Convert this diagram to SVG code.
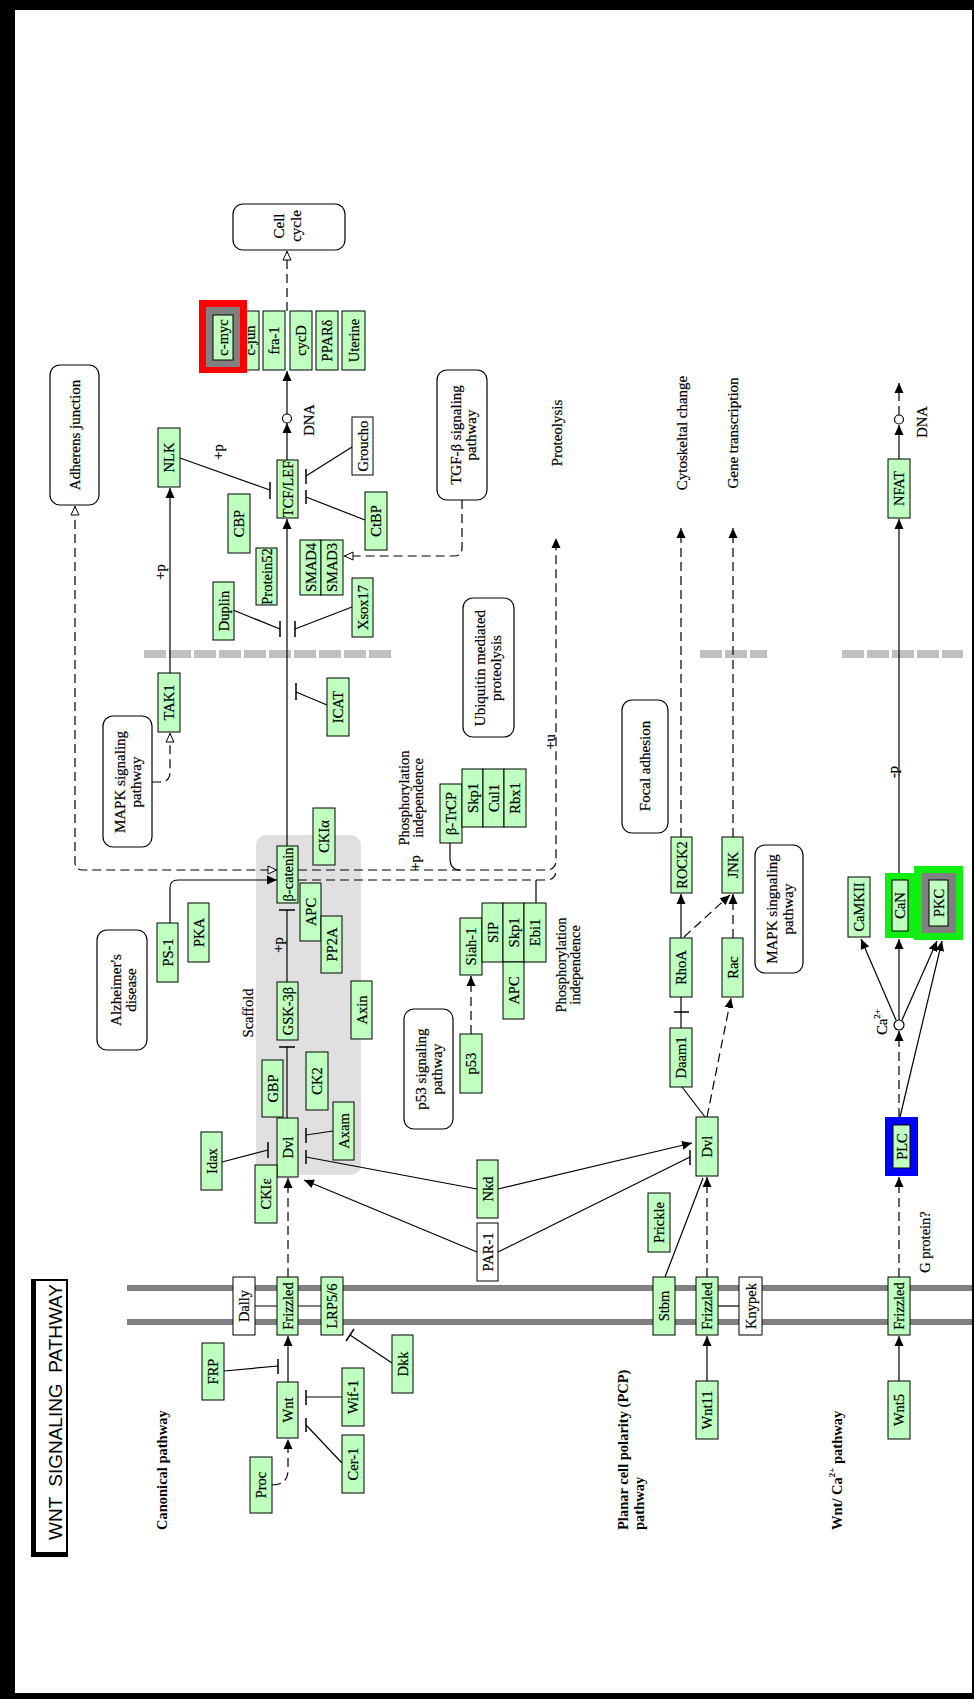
<svg xmlns="http://www.w3.org/2000/svg" width="974" height="1699" viewBox="0 0 974 1699">
<style>
.g{fill:#bfffbf;stroke:#000;stroke-width:1}
.w{fill:#fff;stroke:#000;stroke-width:1}
.pw{fill:#fff;stroke:#000;stroke-width:1.2}
.t{font-family:"Liberation Serif","Times New Roman",serif;font-size:14.5px;text-anchor:middle;dominant-baseline:central;fill:#000;stroke:#000;stroke-width:0.2}
.pt{font-size:15px}
.b{font-family:"Liberation Serif","Times New Roman",serif;font-size:14.5px;font-weight:bold;dominant-baseline:central;fill:#000}
.l{fill:none;stroke:#000;stroke-width:1.2}
.d{fill:none;stroke:#000;stroke-width:1.2;stroke-dasharray:9 5}
.ib{fill:none;stroke:#000;stroke-width:1.5}
.hg{fill:#11ee11}
.gr{fill:#808080}
</style>
<defs>
<marker id="af" viewBox="0 0 10 10" refX="10" refY="5" markerWidth="10" markerHeight="10" markerUnits="userSpaceOnUse" orient="auto"><path d="M0,0.5L10,5L0,9.5z" fill="#000"/></marker>
<marker id="ao" viewBox="0 0 10 10" refX="10" refY="5" markerWidth="10" markerHeight="10" markerUnits="userSpaceOnUse" orient="auto-start-reverse"><path d="M1,1L9.5,5L1,9z" fill="#fff" stroke="#000"/></marker>
</defs>
<rect x="0" y="0" width="974" height="1699" fill="#000"/>
<rect x="15" y="10" width="957" height="1683" fill="#fff"/>
<g id="background">
<rect x="256" y="835" width="105" height="340" rx="10" fill="#e0e0e0"/>
<line x1="144" y1="654" x2="394" y2="654" stroke="#c0c0c0" stroke-width="8" stroke-dasharray="22 3"/>
<line x1="700" y1="654" x2="767" y2="654" stroke="#c0c0c0" stroke-width="8" stroke-dasharray="22 3"/>
<line x1="842" y1="654" x2="963" y2="654" stroke="#c0c0c0" stroke-width="8" stroke-dasharray="22 3"/>
<line x1="127" y1="1288" x2="972" y2="1288" stroke="#808080" stroke-width="6"/>
<line x1="127" y1="1322" x2="972" y2="1322" stroke="#808080" stroke-width="6"/>
</g>
<g id="connectors">
<path class="d" d="M287,311V251" marker-end="url(#ao)"/>
<path class="l" d="M287,460V423" marker-end="url(#af)"/>
<path class="l" d="M287,414V371" marker-end="url(#af)"/>
<circle cx="287" cy="418.5" r="4.5" fill="#fff" stroke="#000" stroke-width="1.2"/>
<path class="l" d="M180,458L270,490"/><path class="ib" d="M270,482V499"/>
<path class="l" d="M352,447L306,476"/><path class="ib" d="M306,469V484"/>
<path class="l" d="M365,520L306,497"/><path class="ib" d="M306,490V504"/>
<path class="l" d="M287,846V519" marker-end="url(#af)"/>
<path class="l" d="M170,673V488" marker-end="url(#af)"/>
<path class="d" d="M152,782H160Q170,782 170,772V733" marker-end="url(#ao)"/>
<path class="l" d="M233,610L280,629"/><path class="ib" d="M280,621V637"/>
<path class="l" d="M352,607L295,629"/><path class="ib" d="M295,621V637"/>
<path class="l" d="M327,705L296,692"/><path class="ib" d="M296,683V700"/>
<path class="d" d="M462,500V548Q462,556 454,556H344" marker-end="url(#ao)"/>
<path class="d" d="M298,870H546Q556,870 556,860V538" marker-end="url(#af)"/>
<path class="d" d="M298,880H546Q556,880 556,870"/>
<path class="l" d="M450,843V858Q450,870 460,870"/>
<path class="l" d="M536,903V880"/>
<path class="d" d="M75,506V862Q75,870 83,870H277" marker-start="url(#ao)" marker-end="url(#ao)"/>
<path class="l" d="M170,923V888Q170,880 178,880H277" marker-end="url(#af)"/>
<path class="l" d="M287,982V910"/><path class="ib" d="M279,910H295"/>
<path class="l" d="M287,1118V1047"/><path class="ib" d="M279,1047H295"/>
<path class="l" d="M222,1162L268,1150"/><path class="ib" d="M268,1142V1158"/>
<path class="l" d="M333,1131L306,1135"/><path class="ib" d="M306,1128V1143"/>
<path class="l" d="M477,1189L306,1157"/><path class="ib" d="M306,1150V1164"/>
<path class="l" d="M477,1252L304,1180" marker-end="url(#af)"/>
<path class="d" d="M288,1277V1178" marker-end="url(#af)"/>
<path class="l" d="M288,1382V1336" marker-end="url(#af)"/>
<path class="d" d="M272,1485Q288,1485 288,1470V1439" marker-end="url(#af)"/>
<path class="l" d="M224,1371L278,1366"/><path class="ib" d="M278,1359V1374"/>
<path class="l" d="M342,1397H306"/><path class="ib" d="M306,1390V1405"/>
<path class="l" d="M342,1463L306,1425"/><path class="ib" d="M306,1418V1432"/>
<path class="l" d="M392,1363L350,1335"/><path class="ib" d="M346,1341L354,1329"/>
<path class="l" d="M255,1306H277M298,1306H321"/>
<path class="l" d="M707,1381V1336" marker-end="url(#af)"/>
<path class="l" d="M718,1306H739"/>
<path class="d" d="M707,1277V1177" marker-end="url(#af)"/>
<path class="l" d="M665,1277L703,1178"/>
<path class="d" d="M707,1117L731,998" marker-end="url(#af)"/>
<path class="l" d="M682,1087L705,1117"/>
<path class="l" d="M681,1028V997"/><path class="ib" d="M674,1012H689"/>
<path class="l" d="M681,938V894" marker-end="url(#af)"/>
<path class="d" d="M684,937L730,895" marker-end="url(#af)"/>
<path class="d" d="M733,938V894" marker-end="url(#af)"/>
<path class="d" d="M681,837V528" marker-end="url(#af)"/>
<path class="d" d="M733,837V528" marker-end="url(#af)"/>
<path class="l" d="M498,1189L692,1143" marker-end="url(#af)"/>
<path class="l" d="M498,1252L690,1157"/><path class="ib" d="M690,1150V1165"/>
<path class="l" d="M899,1381V1336" marker-end="url(#af)"/>
<path class="d" d="M899,1277V1177" marker-end="url(#af)"/>
<path class="d" d="M899,1117V1031" marker-end="url(#af)"/>
<circle cx="899" cy="1025" r="5" fill="#fff" stroke="#000" stroke-width="1.2"/>
<path class="l" d="M896,1020L861,939" marker-end="url(#af)"/>
<path class="l" d="M899,1020V939" marker-end="url(#af)"/>
<path class="l" d="M902,1020L937,941" marker-end="url(#af)"/>
<path class="l" d="M900,1117L942,941" marker-end="url(#af)"/>
<path class="l" d="M899,873V519" marker-end="url(#af)"/>
<path class="l" d="M899,459V425" marker-end="url(#af)"/>
<circle cx="899" cy="419.5" r="4.5" fill="#fff" stroke="#000" stroke-width="1.2"/>
<path class="d" d="M899,415V383" marker-end="url(#af)"/>
<path class="d" d="M471,1034V976" marker-end="url(#af)"/>
</g>
<g id="pathways">
<g id="p-cellcycle"><rect class="pw" x="233" y="204" width="112" height="46" rx="10"/><text class="t pt" x="279" y="226" transform="rotate(-90 279 226)">Cell</text><text class="t pt" x="296" y="226" transform="rotate(-90 296 226)">cycle</text></g>
<g id="p-adherens"><rect class="pw" x="50" y="365" width="49" height="140" rx="10"/><text class="t pt" x="75" y="435" transform="rotate(-90 75 435)">Adherens junction</text></g>
<g id="p-tgfb"><rect class="pw" x="437" y="370" width="50" height="130" rx="10"/><text class="t pt" x="456" y="435" transform="rotate(-90 456 435)">TGF-β signaling</text><text class="t pt" x="471" y="435" transform="rotate(-90 471 435)">pathway</text></g>
<g id="p-ubiq"><rect class="pw" x="463" y="598" width="51" height="139" rx="10"/><text class="t pt" x="480" y="668" transform="rotate(-90 480 668)">Ubiquitin mediated</text><text class="t pt" x="496" y="668" transform="rotate(-90 496 668)">proteolysis</text></g>
<g id="p-mapk1"><rect class="pw" x="103" y="716" width="49" height="131" rx="10"/><text class="t pt" x="120" y="782" transform="rotate(-90 120 782)">MAPK signaling</text><text class="t pt" x="136" y="782" transform="rotate(-90 136 782)">pathway</text></g>
<g id="p-focal"><rect class="pw" x="622" y="700" width="46" height="133" rx="10"/><text class="t pt" x="645" y="766" transform="rotate(-90 645 766)">Focal adhesion</text></g>
<g id="p-alz"><rect class="pw" x="97" y="930" width="50" height="120" rx="10"/><text class="t pt" x="116" y="990" transform="rotate(-90 116 990)">Alzheimer's</text><text class="t pt" x="131" y="990" transform="rotate(-90 131 990)">disease</text></g>
<g id="p-p53"><rect class="pw" x="404" y="1009" width="49" height="120" rx="10"/><text class="t pt" x="421" y="1069" transform="rotate(-90 421 1069)">p53 signaling</text><text class="t pt" x="437" y="1069" transform="rotate(-90 437 1069)">pathway</text></g>
<g id="p-mapk2"><rect class="pw" x="755" y="845" width="48" height="128" rx="10"/><text class="t pt" x="772" y="909" transform="rotate(-90 772 909)">MAPK singnaling</text><text class="t pt" x="788" y="909" transform="rotate(-90 788 909)">pathway</text></g>
</g>
<g id="nodes">
<g id="n-cjun"><rect class="g" x="237" y="311" width="22" height="59"/><text class="t" x="250" y="340.5" transform="rotate(-90 250 340.5)">c-jun</text></g>
<g id="n-cmyc"><rect x="199" y="300" width="48" height="73" fill="#ff0000"/><rect class="gr" x="206" y="307" width="34" height="60"/><rect class="g" x="213" y="315" width="20" height="45"/><text class="t" x="223" y="337.5" transform="rotate(-90 223 337.5)">c-myc</text></g>
<g id="n-fra1"><rect class="g" x="263" y="311" width="22" height="59"/><text class="t" x="274" y="340.5" transform="rotate(-90 274 340.5)">fra-1</text></g>
<g id="n-cycD"><rect class="g" x="290" y="311" width="22" height="59"/><text class="t" x="301" y="340.5" transform="rotate(-90 301 340.5)">cycD</text></g>
<g id="n-ppard"><rect class="g" x="316" y="311" width="22" height="59"/><text class="t" x="327" y="340.5" transform="rotate(-90 327 340.5)">PPARδ</text></g>
<g id="n-uterine"><rect class="g" x="342" y="311" width="23" height="59"/><text class="t" x="353.5" y="340.5" transform="rotate(-90 353.5 340.5)">Uterine</text></g>
<g id="n-nlk"><rect class="g" x="158" y="428" width="22" height="59"/><text class="t" x="169" y="457.5" transform="rotate(-90 169 457.5)">NLK</text></g>
<g id="n-tcf"><rect class="g" x="277" y="460" width="21" height="58"/><text class="t" x="287.5" y="489" transform="rotate(-90 287.5 489)">TCF/LEF</text></g>
<g id="n-groucho"><rect class="w" x="352" y="417" width="21" height="58"/><text class="t" x="362.5" y="446" transform="rotate(-90 362.5 446)">Groucho</text></g>
<g id="n-cbp"><rect class="g" x="228" y="494" width="22" height="59"/><text class="t" x="239" y="523.5" transform="rotate(-90 239 523.5)">CBP</text></g>
<g id="n-ctbp"><rect class="g" x="365" y="492" width="22" height="58"/><text class="t" x="376" y="521" transform="rotate(-90 376 521)">CtBP</text></g>
<g id="n-protein52"><rect class="g" x="256" y="548" width="21" height="57"/><text class="t" x="266.5" y="576.5" transform="rotate(-90 266.5 576.5)">Protein52</text></g>
<g id="n-smad4"><rect class="g" x="300" y="540" width="21" height="55"/><text class="t" x="310.5" y="567.5" transform="rotate(-90 310.5 567.5)">SMAD4</text></g>
<g id="n-smad3"><rect class="g" x="321" y="540" width="22" height="55"/><text class="t" x="332" y="567.5" transform="rotate(-90 332 567.5)">SMAD3</text></g>
<g id="n-duplin"><rect class="g" x="213" y="582" width="21" height="58"/><text class="t" x="223.5" y="611" transform="rotate(-90 223.5 611)">Duplin</text></g>
<g id="n-xsox17"><rect class="g" x="352" y="578" width="21" height="59"/><text class="t" x="362.5" y="607.5" transform="rotate(-90 362.5 607.5)">Xsox17</text></g>
<g id="n-tak1"><rect class="g" x="158" y="673" width="22" height="59"/><text class="t" x="169" y="702.5" transform="rotate(-90 169 702.5)">TAK1</text></g>
<g id="n-icat"><rect class="g" x="327" y="678" width="22" height="58"/><text class="t" x="338" y="707" transform="rotate(-90 338 707)">ICAT</text></g>
<g id="n-ckia"><rect class="g" x="313" y="808" width="22" height="57"/><text class="t" x="324" y="836.5" transform="rotate(-90 324 836.5)">CKIα</text></g>
<g id="n-bcat"><rect class="g" x="277" y="846" width="21" height="57"/><text class="t" x="287.5" y="874.5" transform="rotate(-90 287.5 874.5)">β-catenin</text></g>
<g id="n-apc1"><rect class="g" x="300" y="883" width="21" height="58"/><text class="t" x="310.5" y="912" transform="rotate(-90 310.5 912)">APC</text></g>
<g id="n-pp2a"><rect class="g" x="321" y="916" width="21" height="57"/><text class="t" x="331.5" y="944.5" transform="rotate(-90 331.5 944.5)">PP2A</text></g>
<g id="n-pka"><rect class="g" x="188" y="903" width="21" height="59"/><text class="t" x="198.5" y="932.5" transform="rotate(-90 198.5 932.5)">PKA</text></g>
<g id="n-ps1"><rect class="g" x="157" y="923" width="21" height="59"/><text class="t" x="167.5" y="952.5" transform="rotate(-90 167.5 952.5)">PS-1</text></g>
<g id="n-gsk"><rect class="g" x="277" y="982" width="21" height="58"/><text class="t" x="287.5" y="1011" transform="rotate(-90 287.5 1011)">GSK-3β</text></g>
<g id="n-axin"><rect class="g" x="351" y="981" width="21" height="58"/><text class="t" x="361.5" y="1010" transform="rotate(-90 361.5 1010)">Axin</text></g>
<g id="n-gbp"><rect class="g" x="262" y="1060" width="21" height="57"/><text class="t" x="272.5" y="1088.5" transform="rotate(-90 272.5 1088.5)">GBP</text></g>
<g id="n-ck2"><rect class="g" x="306" y="1052" width="22" height="58"/><text class="t" x="317" y="1081" transform="rotate(-90 317 1081)">CK2</text></g>
<g id="n-dvl1"><rect class="g" x="277" y="1118" width="21" height="59"/><text class="t" x="287.5" y="1147.5" transform="rotate(-90 287.5 1147.5)">Dvl</text></g>
<g id="n-axam"><rect class="g" x="333" y="1102" width="21" height="58"/><text class="t" x="343.5" y="1131" transform="rotate(-90 343.5 1131)">Axam</text></g>
<g id="n-idax"><rect class="g" x="201" y="1132" width="21" height="58"/><text class="t" x="211.5" y="1161" transform="rotate(-90 211.5 1161)">Idax</text></g>
<g id="n-ckie"><rect class="g" x="255" y="1165" width="22" height="58"/><text class="t" x="266" y="1194" transform="rotate(-90 266 1194)">CKIε</text></g>
<g id="n-btrcp"><rect class="g" x="440" y="784" width="22" height="59"/><text class="t" x="451" y="813.5" transform="rotate(-90 451 813.5)">β-TrCP</text></g>
<g id="n-skp1a"><rect class="g" x="462" y="769" width="21" height="58"/><text class="t" x="472.5" y="798" transform="rotate(-90 472.5 798)">Skp1</text></g>
<g id="n-cul1"><rect class="g" x="483" y="769" width="21" height="58"/><text class="t" x="493.5" y="798" transform="rotate(-90 493.5 798)">Cul1</text></g>
<g id="n-rbx1"><rect class="g" x="504" y="769" width="22" height="58"/><text class="t" x="515" y="798" transform="rotate(-90 515 798)">Rbx1</text></g>
<g id="n-siah1"><rect class="g" x="460" y="918" width="22" height="57"/><text class="t" x="471" y="946.5" transform="rotate(-90 471 946.5)">Siah-1</text></g>
<g id="n-sip"><rect class="g" x="482" y="903" width="21" height="59"/><text class="t" x="492.5" y="932.5" transform="rotate(-90 492.5 932.5)">SIP</text></g>
<g id="n-skp1b"><rect class="g" x="503" y="903" width="21" height="59"/><text class="t" x="513.5" y="932.5" transform="rotate(-90 513.5 932.5)">Skp1</text></g>
<g id="n-ebi1"><rect class="g" x="524" y="903" width="22" height="59"/><text class="t" x="535" y="932.5" transform="rotate(-90 535 932.5)">Ebi1</text></g>
<g id="n-apc2"><rect class="g" x="503" y="962" width="21" height="57"/><text class="t" x="513.5" y="990.5" transform="rotate(-90 513.5 990.5)">APC</text></g>
<g id="n-p53"><rect class="g" x="460" y="1034" width="22" height="59"/><text class="t" x="471" y="1063.5" transform="rotate(-90 471 1063.5)">p53</text></g>
<g id="n-nkd"><rect class="g" x="477" y="1160" width="21" height="58"/><text class="t" x="487.5" y="1189" transform="rotate(-90 487.5 1189)">Nkd</text></g>
<g id="n-par1"><rect class="w" x="477" y="1223" width="21" height="58"/><text class="t" x="487.5" y="1252" transform="rotate(-90 487.5 1252)">PAR-1</text></g>
<g id="n-dally"><rect class="w" x="233" y="1277" width="22" height="58"/><text class="t" x="244" y="1306" transform="rotate(-90 244 1306)">Dally</text></g>
<g id="n-fz1"><rect class="g" x="277" y="1277" width="21" height="58"/><text class="t" x="287.5" y="1306" transform="rotate(-90 287.5 1306)">Frizzled</text></g>
<g id="n-lrp"><rect class="g" x="321" y="1277" width="22" height="58"/><text class="t" x="332" y="1306" transform="rotate(-90 332 1306)">LRP5/6</text></g>
<g id="n-frp"><rect class="g" x="202" y="1343" width="22" height="57"/><text class="t" x="213" y="1371.5" transform="rotate(-90 213 1371.5)">FRP</text></g>
<g id="n-wnt"><rect class="g" x="277" y="1382" width="21" height="56"/><text class="t" x="287.5" y="1410" transform="rotate(-90 287.5 1410)">Wnt</text></g>
<g id="n-proc"><rect class="g" x="250" y="1457" width="22" height="56"/><text class="t" x="261" y="1485" transform="rotate(-90 261 1485)">Proc</text></g>
<g id="n-wif1"><rect class="g" x="342" y="1368" width="22" height="58"/><text class="t" x="353" y="1397" transform="rotate(-90 353 1397)">Wif-1</text></g>
<g id="n-cer1"><rect class="g" x="342" y="1435" width="22" height="58"/><text class="t" x="353" y="1464" transform="rotate(-90 353 1464)">Cer-1</text></g>
<g id="n-dkk"><rect class="g" x="392" y="1335" width="21" height="58"/><text class="t" x="402.5" y="1364" transform="rotate(-90 402.5 1364)">Dkk</text></g>
<g id="n-stbm"><rect class="g" x="653" y="1277" width="22" height="58"/><text class="t" x="664" y="1306" transform="rotate(-90 664 1306)">Stbm</text></g>
<g id="n-fz2"><rect class="g" x="696" y="1277" width="22" height="58"/><text class="t" x="707" y="1306" transform="rotate(-90 707 1306)">Frizzled</text></g>
<g id="n-knypek"><rect class="w" x="739" y="1277" width="23" height="58"/><text class="t" x="750.5" y="1306" transform="rotate(-90 750.5 1306)">Knypek</text></g>
<g id="n-wnt11"><rect class="g" x="696" y="1381" width="22" height="58"/><text class="t" x="707" y="1410" transform="rotate(-90 707 1410)">Wnt11</text></g>
<g id="n-fz3"><rect class="g" x="888" y="1277" width="22" height="58"/><text class="t" x="899" y="1306" transform="rotate(-90 899 1306)">Frizzled</text></g>
<g id="n-wnt5"><rect class="g" x="888" y="1381" width="22" height="58"/><text class="t" x="899" y="1410" transform="rotate(-90 899 1410)">Wnt5</text></g>
<g id="n-prickle"><rect class="g" x="648" y="1193" width="22" height="59"/><text class="t" x="659" y="1222.5" transform="rotate(-90 659 1222.5)">Prickle</text></g>
<g id="n-dvl2"><rect class="g" x="696" y="1117" width="22" height="59"/><text class="t" x="707" y="1146.5" transform="rotate(-90 707 1146.5)">Dvl</text></g>
<g id="n-daam1"><rect class="g" x="670" y="1028" width="22" height="59"/><text class="t" x="681" y="1057.5" transform="rotate(-90 681 1057.5)">Daam1</text></g>
<g id="n-rhoa"><rect class="g" x="670" y="938" width="22" height="59"/><text class="t" x="681" y="967.5" transform="rotate(-90 681 967.5)">RhoA</text></g>
<g id="n-rac"><rect class="g" x="722" y="938" width="21" height="59"/><text class="t" x="732.5" y="967.5" transform="rotate(-90 732.5 967.5)">Rac</text></g>
<g id="n-rock2"><rect class="g" x="671" y="837" width="21" height="56"/><text class="t" x="681.5" y="865" transform="rotate(-90 681.5 865)">ROCK2</text></g>
<g id="n-jnk"><rect class="g" x="722" y="837" width="21" height="56"/><text class="t" x="732.5" y="865" transform="rotate(-90 732.5 865)">JNK</text></g>
<g id="n-camkii"><rect class="g" x="848" y="877" width="22" height="60"/><text class="t" x="859" y="907" transform="rotate(-90 859 907)">CaMKII</text></g>
<g id="n-can"><rect class="hg" x="885" y="873" width="29" height="65"/><rect class="g" x="892" y="880" width="16" height="51"/><text class="t" x="900" y="905.5" transform="rotate(-90 900 905.5)">CaN</text></g>
<g id="n-pkc"><rect class="hg" x="914" y="866" width="49" height="74"/><rect class="gr" x="922" y="873" width="34" height="60"/><rect class="g" x="929" y="880" width="19" height="46"/><text class="t" x="938.5" y="903" transform="rotate(-90 938.5 903)">PKC</text></g>
<g id="n-plc"><rect x="885" y="1117" width="33" height="59" fill="#0000ff"/><rect class="g" x="893" y="1125" width="17" height="43"/><text class="t" x="901.5" y="1146.5" transform="rotate(-90 901.5 1146.5)">PLC</text></g>
<g id="n-nfat"><rect class="g" x="888" y="459" width="22" height="59"/><text class="t" x="899" y="488.5" transform="rotate(-90 899 488.5)">NFAT</text></g>
</g>
<g id="labels">
<text class="t" x="309" y="420" transform="rotate(-90 309 420)">DNA</text>
<text class="t" x="922" y="422" transform="rotate(-90 922 422)">DNA</text>
<text class="t" x="160" y="572" transform="rotate(-90 160 572)">+p</text>
<text class="t" x="218" y="452" transform="rotate(-90 218 452)">+p</text>
<text class="t" x="278" y="945" transform="rotate(-90 278 945)">+p</text>
<text class="t" x="415" y="863" transform="rotate(-90 415 863)">+p</text>
<text class="t" x="550" y="742" transform="rotate(-90 550 742)">+u</text>
<text class="t" x="893" y="772" transform="rotate(-90 893 772)">-p</text>
<text class="t pt" x="557" y="433" transform="rotate(-90 557 433)">Proteolysis</text>
<text class="t pt" x="682" y="433" transform="rotate(-90 682 433)">Cytoskeltal change</text>
<text class="t pt" x="733" y="433" transform="rotate(-90 733 433)">Gene transcription</text>
<text class="t" x="404" y="798" transform="rotate(-90 404 798)">Phosphorylation</text>
<text class="t" x="418" y="798" transform="rotate(-90 418 798)">independence</text>
<text class="t" x="561" y="965" transform="rotate(-90 561 965)">Phosphorylation</text>
<text class="t" x="575" y="965" transform="rotate(-90 575 965)">independence</text>
<text class="t" x="248" y="1013" transform="rotate(-90 248 1013)">Scaffold</text>
<text class="t" x="925" y="1242" transform="rotate(-90 925 1242)">G protein?</text>
<text class="t" x="882" y="1022" transform="rotate(-90 882 1022)">Ca<tspan font-size="9" baseline-shift="super">2+</tspan></text>
<text class="b" x="162" y="1530" transform="rotate(-90 162 1530)">Canonical pathway</text>
<text class="b" x="623" y="1530" transform="rotate(-90 623 1530)">Planar cell polarity (PCP)</text>
<text class="b" x="639" y="1530" transform="rotate(-90 639 1530)">pathway</text>
<text class="b" x="837" y="1530" transform="rotate(-90 837 1530)">Wnt/ Ca<tspan font-size="9" baseline-shift="super">2+</tspan> pathway</text>
</g>
<g id="title">
<rect x="31" y="1279" width="5" height="278" fill="#000"/>
<rect x="31" y="1552" width="36" height="5" fill="#000"/>
<rect x="33" y="1280" width="34" height="276" fill="none" stroke="#000" stroke-width="2"/>
<text x="55" y="1412" transform="rotate(-90 55 1412)" font-family="Liberation Sans, Arial, sans-serif" font-size="19" text-anchor="middle" dominant-baseline="central" textLength="256" lengthAdjust="spacingAndGlyphs" xml:space="preserve">WNT  SIGNALING  PATHWAY</text>
</g>
</svg>
